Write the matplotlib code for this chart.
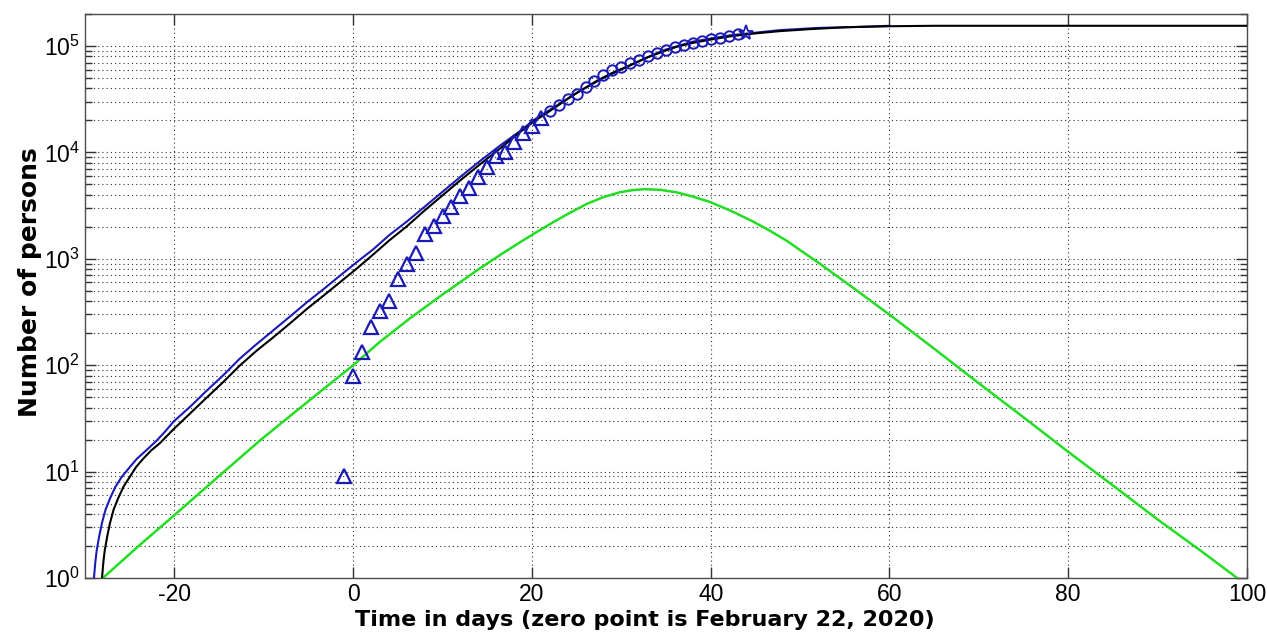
import matplotlib
matplotlib.use('Agg')
import matplotlib.pyplot as plt
from matplotlib.ticker import LogLocator, NullFormatter

plt.rcParams['font.family'] = ['Liberation Sans', 'DejaVu Sans']
plt.rcParams['mathtext.default'] = 'regular'
plt.rcParams['axes.unicode_minus'] = False

# model curves (day, persons)
blue_x = [-29.0, -28.85, -28.7, -28.4, -28.1, -27.7, -27.2, -26.6, -25.9, -25.0,
          -24.2, -23.1, -22.0, -21.0, -20.1, -18.2, -16.4, -14.5, -12.7, -10.8,
          -8.9, -7.0, -5.2, -3.3, -1.5, 0.4, 2.25, 4.0, 6.0, 8.0, 10.0, 12.0,
          14.2, 16.5, 18.66, 20.3, 22.0, 25.0, 28.0, 31.0, 34.7, 38.0, 42.1,
          44.8, 47.7, 52.0, 56.0, 60.0]
blue_y = [1.0, 1.4, 1.8, 2.5, 3.3, 4.4, 5.6, 7.2, 8.9, 11.0,
          13.2, 16.0, 19.5, 24.0, 29.5, 41, 57.5, 81, 115, 158,
          214, 290, 389, 520, 692, 930, 1230, 1660, 2240, 3090, 4270, 5900,
          8320, 11700, 15850, 20400, 25100, 36300, 50100, 66000, 91200, 110000, 126000,
          133000, 141000, 148000, 151000, 155000]

black_x = [-28.1, -27.95, -27.8, -27.5, -27.2, -26.8, -26.3, -25.7, -25.0, -24.3,
           -23.5, -22.6, -21.6, -20.1, -18.2, -16.4, -14.5, -12.7, -10.8, -8.9,
           -7.0, -5.2, -3.3, -1.5, 0.4, 2.25, 4.0, 6.0, 8.0, 10.0, 12.0, 14.2,
           16.5, 18.66, 20.3, 22.0, 24.5, 27.2, 29.0, 31.0, 32.8, 34.7, 36.3,
           38.0, 40.0, 42.1, 44.8, 47.7, 51.0, 55.0, 60.0, 65.0, 80.0, 100.0]
black_y = [1.0, 1.4, 1.8, 2.5, 3.3, 4.4, 5.6, 7.2, 8.9, 11.0,
           13.2, 15.8, 18.6, 25.0, 35.5, 49.5, 70, 99, 137, 184,
           250, 337, 452, 600, 810, 1100, 1480, 2020, 2850, 3950, 5480, 7740,
           11000, 15500, 19800, 24500, 34000, 46800, 56000, 66000, 77600, 89100, 99000,
           107000, 115000, 123000, 131000, 138000, 144000, 150000, 153500, 155000, 155000, 155000]

green_x = [-28.0, -24.0, -20.0, -15.0, -10.4, -5.0, 0.0, 3.0, 6.5, 10.0, 14.0,
           16.5, 18.66, 20.5, 22.4, 24.3, 26.1, 28.0, 29.8, 31.2, 32.6, 34.4,
           36.2, 38.0, 39.9, 42.3, 44.75, 46.6, 48.5, 50.3, 52.2, 54.0, 55.9,
           58.0, 60.4, 65.0, 70.0, 75.0, 79.8, 85.0, 90.0, 95.0, 98.9]
green_y = [1.0, 2.0, 3.9, 9.1, 19.7, 46, 100, 166, 282, 462, 794,
           1096, 1429, 1778, 2213, 2723, 3273, 3802, 4217, 4416, 4519, 4446,
           4217, 3846, 3428, 2818, 2239, 1841, 1479, 1161, 902, 700, 537,
           398, 282, 143, 67.6, 32.4, 15.8, 7.41, 3.55, 1.76, 1.0]

# reported cases
tri_days = list(range(-1, 22))
tri_cases = [9, 79, 132, 229, 322, 400, 650, 888, 1128, 1694, 2036, 2502, 3089,
             3858, 4636, 5883, 7375, 9172, 10149, 12462, 15113, 17660, 21157]
circ_days = list(range(22, 44))
circ_cases = [24747, 27980, 31506, 35713, 41035, 47021, 53578, 59138, 63927,
              69176, 74386, 80589, 86498, 92472, 97689, 101739, 105792, 110574,
              115242, 119827, 124632, 128948]
star_day = [44]
star_case = [132547]

blue = '#1a1ab4'

fig = plt.figure(figsize=(12.67, 6.37), dpi=100)
ax = fig.add_axes([0.0671, 0.0926, 0.9171, 0.8854])

ax.plot(blue_x, blue_y, color=blue, lw=1.5, zorder=3)
ax.plot(black_x, black_y, color='k', lw=1.5, zorder=4)
ax.plot(green_x, green_y, color='#22dd22', lw=1.8, zorder=3)
ax.plot(tri_days, tri_cases, ls='none', marker='^', ms=10, mfc='none',
        mec=blue, mew=1.6, zorder=5)
ax.plot(circ_days, circ_cases, ls='none', marker='o', ms=7.5, mfc='none',
        mec=blue, mew=1.4, zorder=5)
ax.plot(star_day, star_case, ls='none', marker='*', ms=11, mfc='none',
        mec=blue, mew=1.3, zorder=5)

ax.set_yscale('log')
ax.set_xlim(-30, 100)
ax.set_ylim(1, 2e5)
ax.set_xticks([-20, 0, 20, 40, 60, 80, 100])
ax.yaxis.set_major_locator(LogLocator(base=10, numticks=10))
ax.yaxis.set_minor_locator(LogLocator(base=10, subs=range(2, 10), numticks=20))
ax.yaxis.set_minor_formatter(NullFormatter())

dots = (0, (1, 2.8))
ax.grid(True, which='major', axis='both', ls=dots, color='0.2', lw=0.8)
ax.grid(True, which='minor', axis='y', ls=dots, color='0.2', lw=0.8)
ax.set_axisbelow(True)

ax.tick_params(which='both', direction='in', top=True, right=True,
               labelsize=16.5, colors='0.2', labelcolor='k')
ax.tick_params(which='major', length=8, width=1)
ax.tick_params(which='minor', length=5, width=1)
for s in ax.spines.values():
    s.set_color('0.3')
    s.set_linewidth(1)

ax.set_xlabel('Time in days (zero point is February 22, 2020)',
              family='DejaVu Sans', fontweight='bold', fontsize=16)
ax.set_ylabel('Number of persons', family='DejaVu Sans', fontweight='bold',
              fontsize=18)
ax.xaxis.set_label_coords(0.482, -0.056)
ax.yaxis.set_label_coords(-0.037, 0.525)

fig.savefig('out.png', dpi=100)
